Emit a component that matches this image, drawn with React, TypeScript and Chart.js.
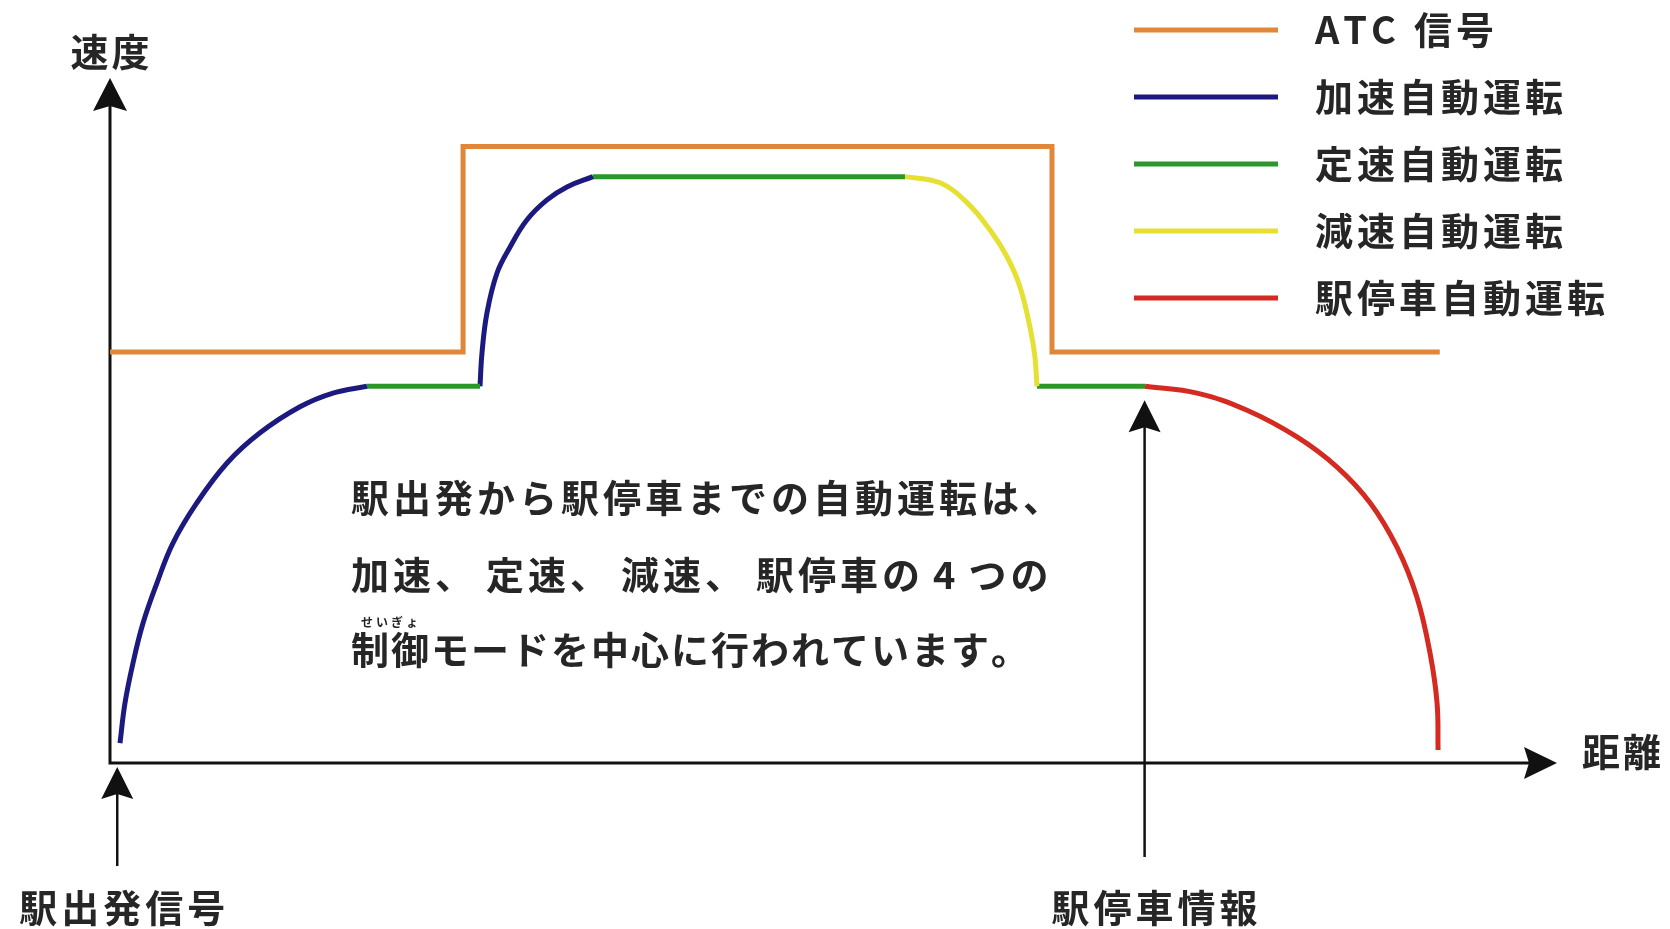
import React, { useEffect, useRef } from 'react';
import { Chart, registerables } from 'chart.js';

Chart.register(...registerables);

// ---- data (distance 0..100, speed 0..100) ----
const atcX = [0, 24.4, 24.4, 65.1, 65.1, 91.9];
const atcY = [60, 60, 90, 90, 60, 60];

const accel1X = [0.69, 1.04, 1.59, 2.28, 3.25, 4.35, 6.01, 8.09, 10.37, 13.13, 15.41, 17.76];
const accel1Y = [2.9, 8.8, 14.6, 20.4, 26.3, 32.1, 38.0, 43.8, 48.2, 52.0, 54.0, 55];
const accel2X = [25.57, 25.71, 26.05, 26.74, 27.64, 28.82, 30.2, 31.58, 33.38];
const accel2Y = [55, 59.9, 65.7, 71.5, 75.3, 79.3, 82.2, 84.1, 85.6];

const cruise1X = [17.76, 25.57];
const cruise1Y = [55, 55];
const cruise2X = [33.38, 54.94];
const cruise2Y = [85.6, 85.6];
const cruise3X = [64.06, 71.53];
const cruise3Y = [55, 55];

const decelX = [54.94, 57.36, 59.23, 60.82, 61.99, 62.89, 63.58, 63.92, 64.06];
const decelY = [85.6, 84.7, 81.8, 77.8, 73.9, 69.5, 63.6, 59.3, 55];

const stopX = [71.53, 75.12, 78.58, 82.03, 84.8, 87.08, 88.94, 90.32, 91.22, 91.71, 91.78];
const stopY = [55, 54.0, 51.5, 47.6, 43.2, 38.0, 31.5, 24.2, 16.1, 8.8, 1.9];

const seriesLabels = ['ATC 信号', '加速自動運転', '定速自動運転', '減速自動運転', '駅停車自動運転'];
const seriesColors = ['#E0873A', '#1C1A7E', '#2B972B', '#E6E032', '#D52A22'];

const axisLabelY = '速度';
const axisLabelX = '距離';
const markerX = [0.5, 71.5];
const markerLabels = ['駅出発信号', '駅停車情報'];
const noteLines = ['駅出発から駅停車までの自動運転は、', '加速、 定速、 減速、 駅停車の 4 つの', '制御モードを中心に行われています。'];
const rubyText = 'せいぎょ';

const FONT = '"Noto Sans CJK JP", "Noto Sans", sans-serif';
const INK = '#262626';

const toPoints = (xs: number[], ys: number[]) => xs.map((x, i) => ({ x, y: ys[i] }));

function spacedText(ctx: CanvasRenderingContext2D, text: string, x: number, y: number, spacing: number, align: 'left' | 'center', spaceW = 4) {
  const chars = Array.from(text);
  const widths = chars.map((c) => (c === ' ' ? spaceW : ctx.measureText(c).width));
  const total = widths.reduce((a, b) => a + b, 0) + spacing * (chars.length - 1);
  let cx = align === 'center' ? x - total / 2 : x;
  ctx.textAlign = 'left';
  chars.forEach((c, i) => {
    if (c !== ' ') ctx.fillText(c, cx, y);
    cx += widths[i] + spacing;
  });
}

function arrowHead(ctx: CanvasRenderingContext2D, x: number, y: number, angle: number, len = 33, half = 17, notch = 5) {
  ctx.save();
  ctx.translate(x, y);
  ctx.rotate(angle);
  ctx.beginPath();
  ctx.moveTo(0, 0);
  ctx.lineTo(-len, -half);
  ctx.lineTo(-len + notch, 0);
  ctx.lineTo(-len, half);
  ctx.closePath();
  ctx.fill();
  ctx.restore();
}

const overlay = {
  id: 'overlay',
  beforeDatasetsDraw(chart: any) {
    const { ctx, chartArea } = chart;
    const { left, right, top, bottom } = chartArea;
    ctx.save();
    ctx.strokeStyle = '#111';
    ctx.fillStyle = '#111';
    ctx.lineWidth = 3;
    ctx.beginPath();
    ctx.moveTo(left, bottom + 1.5);
    ctx.lineTo(left, top + 20);
    ctx.moveTo(left - 1.5, bottom);
    ctx.lineTo(right - 20, bottom);
    ctx.stroke();
    arrowHead(ctx, left, top, -Math.PI / 2);
    arrowHead(ctx, right, bottom, 0, 33, 16);
    ctx.restore();
  },
  afterDatasetsDraw(chart: any) {
    const { ctx, chartArea, scales } = chart;
    const { left, right, bottom } = chartArea;
    const xs = scales.x;
    const ys = scales.y;
    ctx.save();
    ctx.fillStyle = INK;
    ctx.strokeStyle = '#111';
    ctx.textBaseline = 'middle';
    const big = `bold 38px ${FONT}`;

    // marker arrows
    const tipYs = [bottom + 4, ys.getPixelForValue(55) + 14];
    const baseYs = [866, 857];
    markerX.forEach((mx, i) => {
      const px = xs.getPixelForValue(mx);
      ctx.lineWidth = 2.5;
      ctx.strokeStyle = '#111';
      ctx.beginPath();
      ctx.moveTo(px, baseYs[i]);
      ctx.lineTo(px, tipYs[i] + 20);
      ctx.stroke();
      ctx.fillStyle = '#111';
      arrowHead(ctx, px, tipYs[i], -Math.PI / 2, 32, 16);
      ctx.fillStyle = INK;
      ctx.font = big;
      spacedText(ctx, markerLabels[i], px + (i === 0 ? 5 : 10), 908, 4, 'center');
    });

    // axis labels
    ctx.font = big;
    spacedText(ctx, axisLabelY, left, 52, 3, 'center');
    spacedText(ctx, axisLabelX, right + 25, 752, 3, 'left');

    // note text
    const noteY = [498, 575, 650];
    const noteSpacing = [4, 4, 2];
    noteLines.forEach((t, i) => {
      spacedText(ctx, t, 351, noteY[i], noteSpacing[i], 'left', 5);
    });
    ctx.font = `bold 12px ${FONT}`;
    spacedText(ctx, rubyText, 361, 622, 3, 'left');

    // legend
    const legendTop = 30;
    const legendStep = 67;
    seriesLabels.forEach((label, i) => {
      const y = legendTop + i * legendStep;
      ctx.strokeStyle = seriesColors[i];
      ctx.lineWidth = 5;
      ctx.lineCap = 'butt';
      ctx.beginPath();
      ctx.moveTo(1134, y);
      ctx.lineTo(1278, y);
      ctx.stroke();
      ctx.fillStyle = INK;
      ctx.font = big;
      spacedText(ctx, label, 1315, y, 4, 'left', 10);
    });
    ctx.restore();
  },
};

export default function App() {
  const ref = useRef<HTMLCanvasElement | null>(null);
  useEffect(() => {
    if (!ref.current) return;
    document.body.style.margin = '0';
    const curve = (label: string, color: string, xs: number[], ys: number[]) => ({
      label,
      borderColor: color,
      data: toPoints(xs, ys) as any,
      pointRadius: 0,
      borderWidth: 5,
      fill: false,
      clip: false as any,
      borderCapStyle: 'butt' as const,
      borderJoinStyle: 'round' as const,
      cubicInterpolationMode: 'default' as const,
      tension: 0.4,
    });
    const straight = (label: string, color: string, xs: number[], ys: number[]) => ({
      ...curve(label, color, xs, ys),
      tension: 0,
      borderJoinStyle: 'miter' as const,
    });
    const chart = new Chart(ref.current, {
      type: 'line',
      data: {
        datasets: [
          straight(seriesLabels[0], seriesColors[0], atcX, atcY),
          curve(seriesLabels[1], seriesColors[1], accel1X, accel1Y),
          straight(seriesLabels[2], seriesColors[2], cruise1X, cruise1Y),
          curve(seriesLabels[1], seriesColors[1], accel2X, accel2Y),
          straight(seriesLabels[2], seriesColors[2], cruise2X, cruise2Y),
          curve(seriesLabels[3], seriesColors[3], decelX, decelY),
          straight(seriesLabels[2], seriesColors[2], cruise3X, cruise3Y),
          curve(seriesLabels[4], seriesColors[4], stopX, stopY),
        ],
      },
      options: {
        responsive: false,
        devicePixelRatio: 1,
        animation: false,
        layout: { padding: { left: 110, right: 113, top: 78, bottom: 166 } },
        scales: {
          x: { type: 'linear', min: 0, max: 100, display: false },
          y: { type: 'linear', min: 0, max: 100, display: false },
        },
        plugins: { legend: { display: false }, tooltip: { enabled: false }, title: { display: false } },
        events: [],
      },
      plugins: [overlay],
    });
    return () => chart.destroy();
  }, []);
  return (
    <div style={{ position: 'fixed', left: 0, top: 0, width: 1670, height: 929, background: '#fff' }}>
      <canvas ref={ref} width={1670} height={929} style={{ display: 'block', width: 1670, height: 929 }} />
    </div>
  );
}
